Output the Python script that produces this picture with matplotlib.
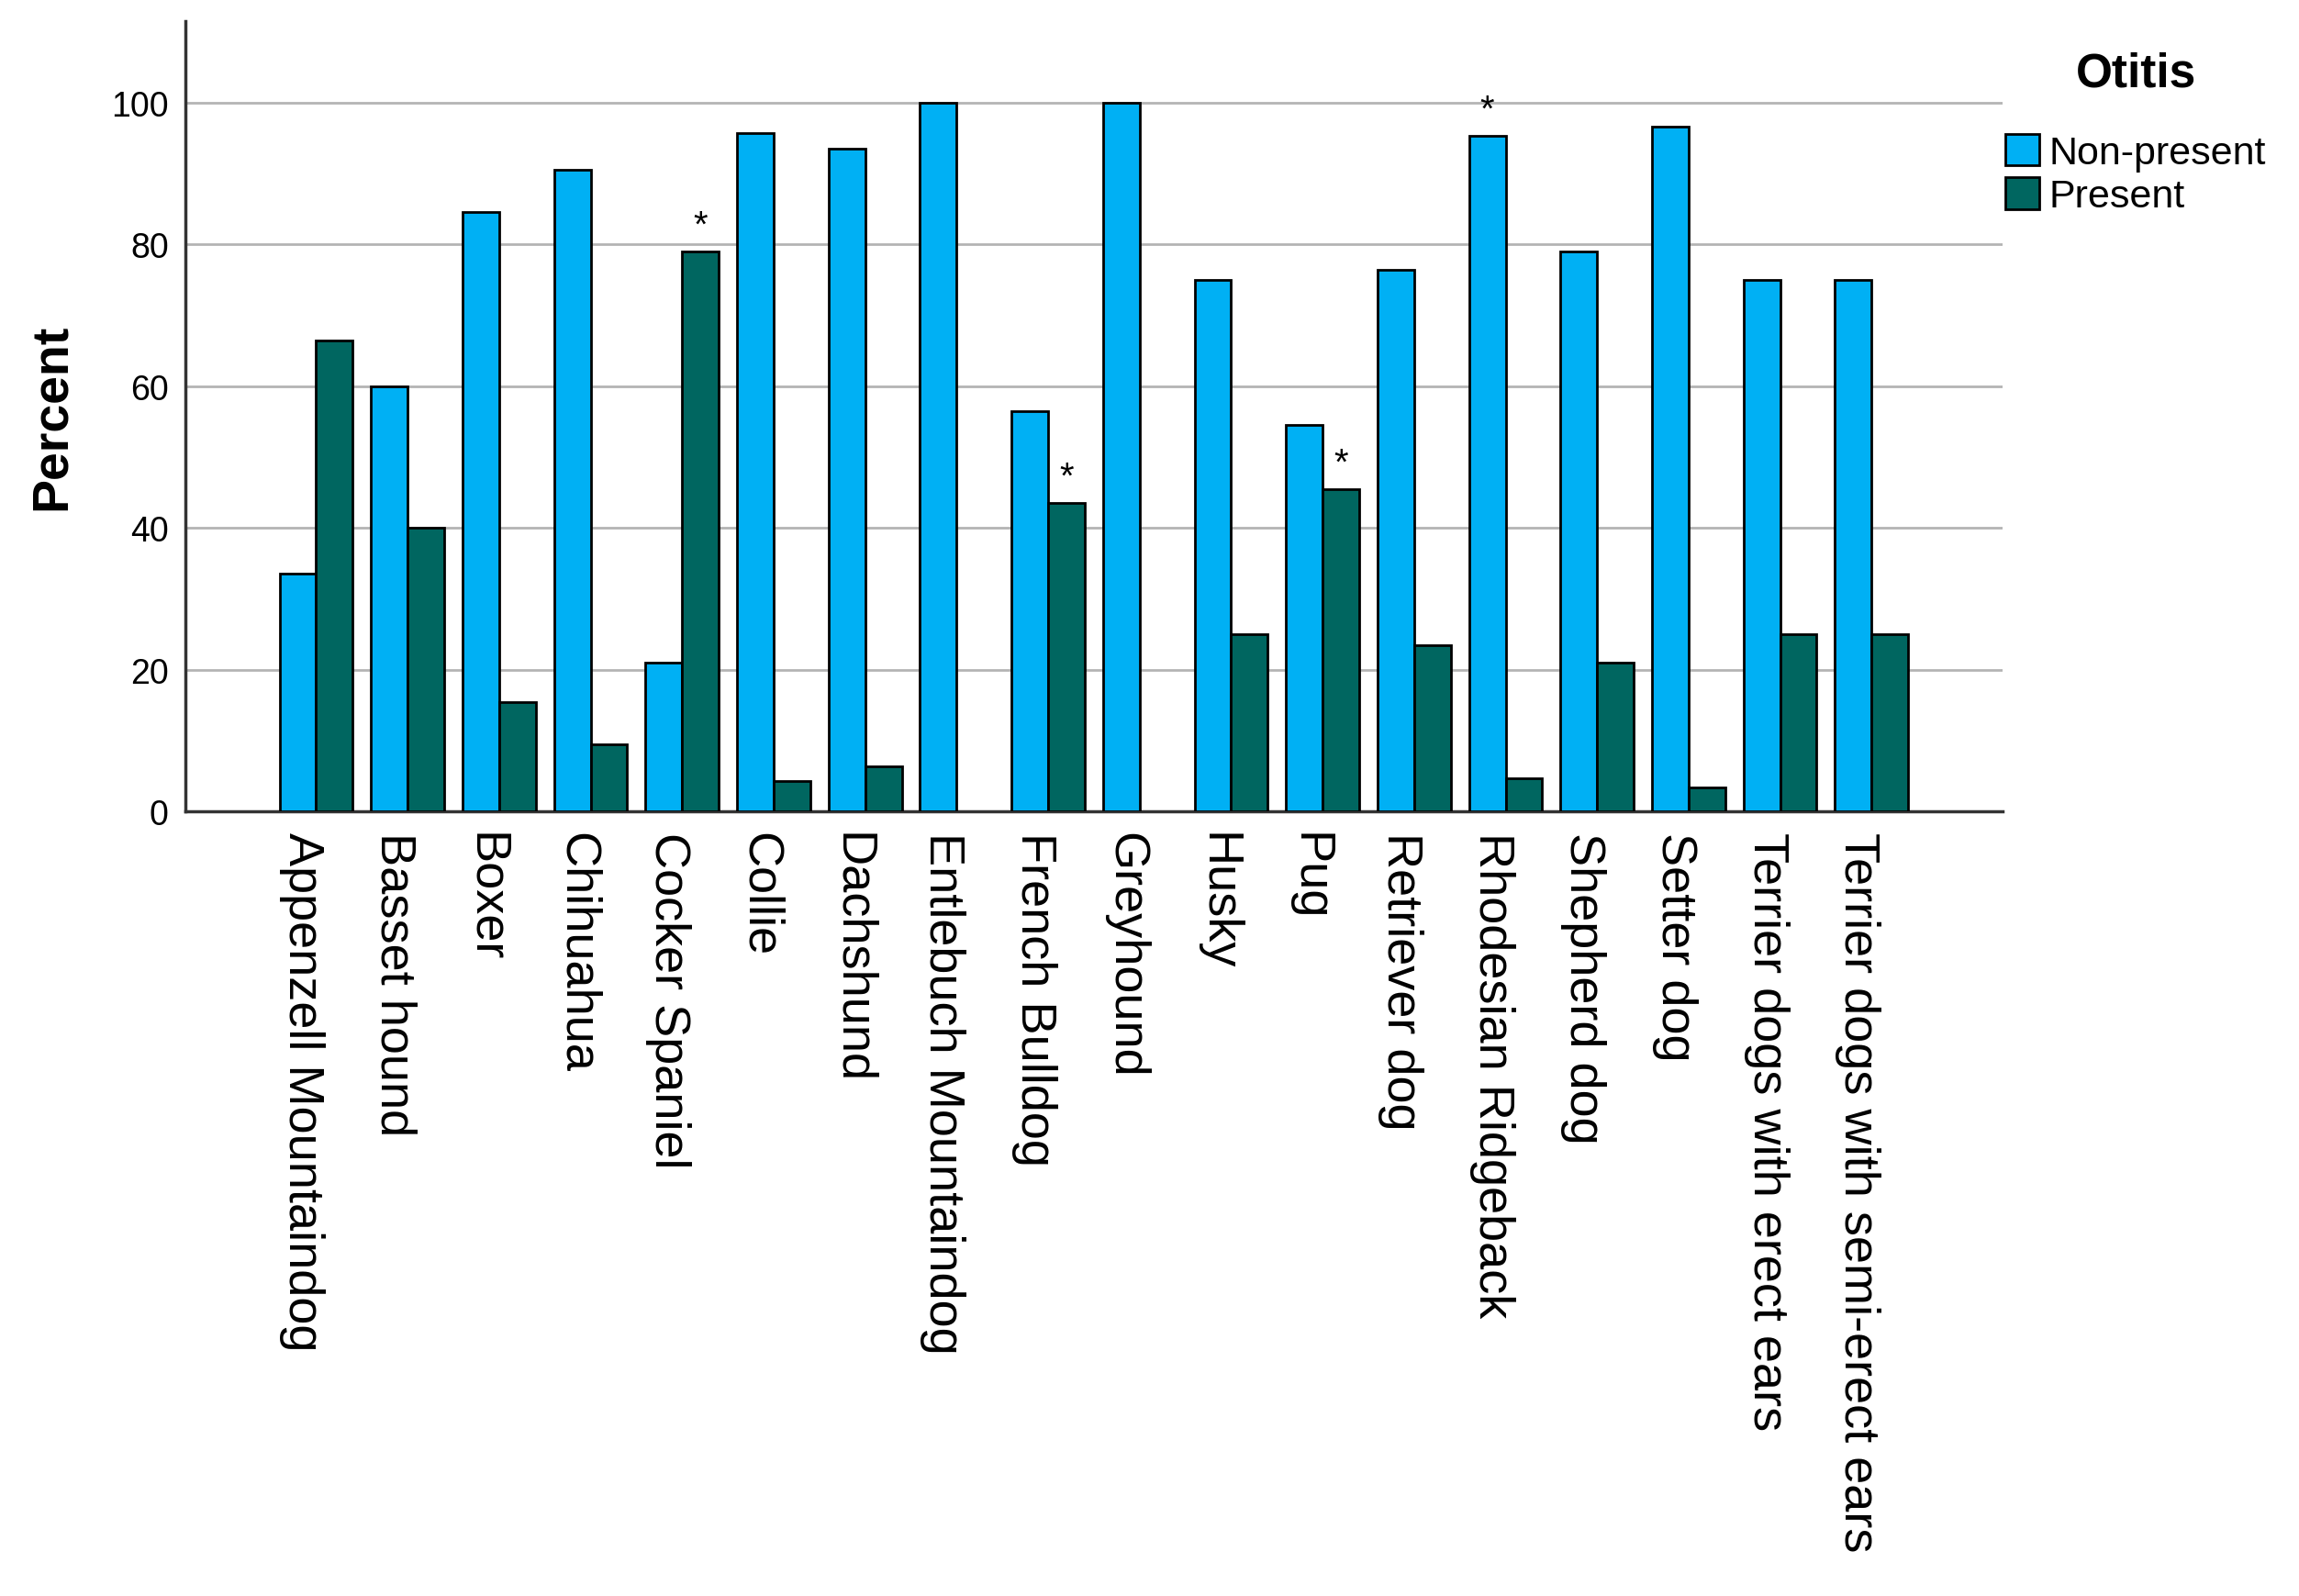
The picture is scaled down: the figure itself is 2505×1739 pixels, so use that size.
import matplotlib
matplotlib.use("Agg")
import matplotlib.pyplot as plt
import matplotlib.transforms as mtransforms
import numpy as np

# dados
racas = ['Appenzell Mountaindog', 'Basset hound', 'Boxer', 'Chihuahua',
         'Cocker Spaniel', 'Collie', 'Dachshund', 'Entlebuch Mountaindog',
         'French Bulldog', 'Greyhound', 'Husky', 'Pug', 'Retriever dog',
         'Rhodesian Ridgeback', 'Shepherd dog', 'Setter dog',
         'Terrier dogs with erect ears', 'Terrier dogs with semi-erect ears']
nao_presente = [33.5, 60.0, 84.6, 90.5, 21.0, 95.7, 93.6, 100.0, 56.5, 100.0,
                75.0, 54.5, 76.5, 95.3, 79.0, 96.6, 75.0, 75.0]
presente = [66.5, 40.0, 15.4, 9.5, 79.0, 4.3, 6.4, 0.0, 43.5, 0.0,
            25.0, 45.5, 23.5, 4.7, 21.0, 3.4, 25.0, 25.0]
# asteriscos: (indice, serie)
asteriscos = [(4, 'Present'), (8, 'Present'), (11, 'Present'), (13, 'Non-present')]
yticks = [0, 20, 40, 60, 80, 100]

cor_np = '#00b0f4'
cor_p = '#006660'

fig = plt.figure(figsize=(25.05, 17.4), dpi=100)
ax = fig.add_axes([0.0806, 0.4914, 0.7904, 0.4946])

x = np.arange(len(racas))
w = 0.4
b1 = ax.bar(x - w / 2, nao_presente, w, color=cor_np, edgecolor='black',
            linewidth=2, label='Non-present', zorder=3)
b2 = ax.bar(x + w / 2, presente, w, color=cor_p, edgecolor='black',
            linewidth=2, label='Present', zorder=3)
# barras de altura zero nao aparecem no original
for p in list(b1) + list(b2):
    if p.get_height() == 0:
        p.set_visible(False)

for i, serie in asteriscos:
    if serie == 'Present':
        ax.text(x[i] + w / 2, presente[i] + 1.2, '*', ha='center', va='bottom',
                fontsize=29, family='Liberation Sans')
    else:
        ax.text(x[i] - w / 2, nao_presente[i] + 1.2, '*', ha='center', va='bottom',
                fontsize=29, family='Liberation Sans')

ax.set_xlim(-1.43, len(racas) - 1 + 1.43)
ax.set_ylim(0, 111.5)
ax.set_yticks(yticks)
ax.set_yticklabels([str(t) for t in yticks], fontsize=27, family='Liberation Sans')
ax.tick_params(axis='y', length=0, pad=13)
ax.set_xticks(x)
ax.set_xticklabels(racas, rotation=270, fontsize=39, family='Liberation Sans',
                   ha='center', va='top')
ax.tick_params(axis='x', length=0, pad=16)
desloc = mtransforms.ScaledTranslation(-0.15, 0, fig.dpi_scale_trans)
for lbl in ax.get_xticklabels():
    lbl.set_transform(lbl.get_transform() + desloc)
ax.yaxis.grid(True, color='#b4b4b4', linewidth=2, zorder=0)
ax.set_axisbelow(True)

for s in ['top', 'right']:
    ax.spines[s].set_visible(False)
for s in ['left', 'bottom']:
    ax.spines[s].set_linewidth(2.5)
    ax.spines[s].set_color('#333333')

ax.set_ylabel('Percent', fontsize=40, fontweight='bold', family='Liberation Sans',
              labelpad=28)

leg = ax.legend(loc='upper left', bbox_to_anchor=(0.993, 0.983), frameon=False,
                prop={'family': 'Liberation Sans', 'size': 31},
                handlelength=0.85, handleheight=0.85, handletextpad=0.25,
                labelspacing=0.15, borderaxespad=0)
leg.set_title('Otitis', prop={'family': 'Liberation Sans', 'size': 37,
                              'weight': 'bold'})
leg._legend_box.sep = 30

fig.savefig('out.png', dpi=100)
